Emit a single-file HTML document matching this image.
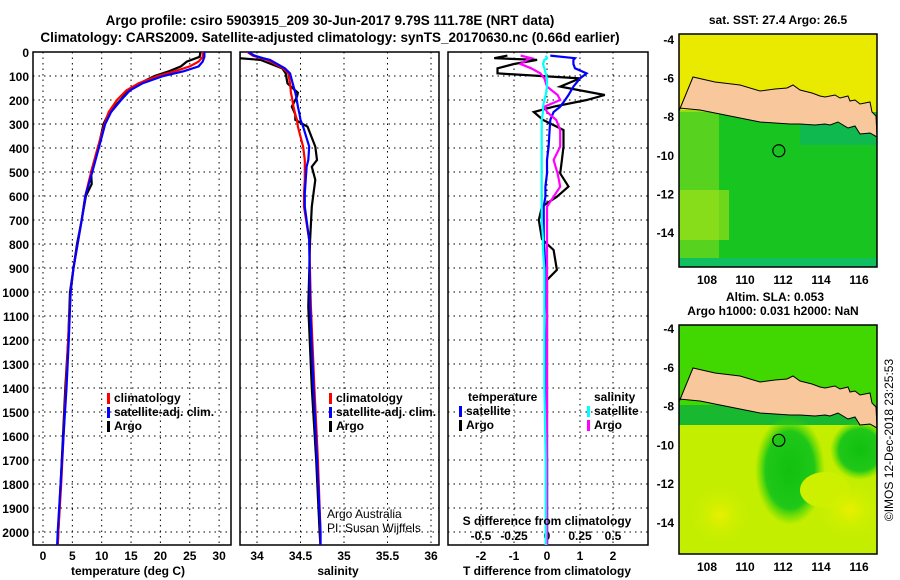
<!DOCTYPE html>
<html><head><meta charset="utf-8"><style>
html,body{margin:0;padding:0;background:#fff;width:900px;height:580px;overflow:hidden;}
svg{display:block;font-family:"Liberation Sans",sans-serif;overflow:hidden;}
.t{font-weight:bold;font-size:13.5px;}
.k{font-weight:bold;font-size:12px;}
</style></head><body>
<svg id="c" width="900" height="580" viewBox="0 0 900 580">
<defs>
<clipPath id="cp1"><rect x="33" y="52" width="198" height="493"/></clipPath>
<clipPath id="cp2"><rect x="240" y="52" width="199" height="493"/></clipPath>
<clipPath id="cp3"><rect x="448" y="52" width="200" height="493"/></clipPath>
<clipPath id="cm1"><rect x="679" y="34" width="198" height="233"/></clipPath>
<clipPath id="cm2"><rect x="679" y="325" width="198" height="229"/></clipPath>
<radialGradient id="yb"><stop offset="0" stop-color="#e8f000"/><stop offset="1" stop-color="#c8f000" stop-opacity="0"/></radialGradient>
<radialGradient id="gb"><stop offset="0" stop-color="#10c010"/><stop offset="0.7" stop-color="#20c818"/><stop offset="1" stop-color="#40d800" stop-opacity="0"/></radialGradient>
</defs>
<text class="t" x="330" y="25" text-anchor="middle">Argo profile: csiro 5903915_209 30-Jun-2017 9.79S 111.78E (NRT data)</text>
<text class="t" x="330" y="42" text-anchor="middle">Climatology: CARS2009. Satellite-adjusted climatology: synTS_20170630.nc (0.66d earlier)</text>
<g id="grid"></g>
<g id="series"></g>
<g id="maps"></g>
<text class="k" x="128" y="575" text-anchor="middle">temperature (deg C)</text>
<text class="k" x="338" y="575" text-anchor="middle">salinity</text>
<text class="k" x="547" y="575" text-anchor="middle">T difference from climatology</text>
<text class="k" x="547" y="525" text-anchor="middle">S difference from climatology</text>
<text x="327" y="518" font-size="12">Argo Australia</text>
<text x="327" y="532" font-size="12">PI: Susan Wijffels</text>
<text class="k" x="778" y="24" text-anchor="middle">sat. SST: 27.4 Argo: 26.5</text>
<text class="k" x="775" y="301" text-anchor="middle">Altim. SLA: 0.053</text>
<text class="k" x="773" y="315" text-anchor="middle">Argo h1000: 0.031 h2000: NaN</text>
<text x="893" y="440" font-size="12" text-anchor="middle" transform="rotate(-90 893 440)">©IMOS 12-Dec-2018 23:25:53</text>
</svg>
<script>
const depthTicks=[0,100,200,300,400,500,600,700,800,900,1000,1100,1200,1300,1400,1500,1600,1700,1800,1900,2000];
const tempTicks=[0,5,10,15,20,25,30];
const salTicks=[34,34.5,35,35.5,36];
const salTickLabels=['34','34.5','35','35.5','36'];
const tdTicks=[-2,-1,0,1,2];
const sdTicks=[-0.5,-0.25,0,0.25,0.5];
const sdTickLabels=['-0.5','-0.25','0','0.25','0.5'];
const lonTicks=[108,110,112,114,116];
const latTicks=[-4,-6,-8,-10,-12,-14];
// temperature profiles
const tDepth=[0,20,40,60,80,100,130,160,200,250,300,400,500,550,600,700,800,900,1000,1200,1400,1600,1800,2000,2060];
const tArgo=[26.8,26.7,24.5,23.5,21.5,19,16.5,14.5,13.2,11.3,10.3,9.4,8.2,8.3,7.3,6.6,5.8,5.2,4.6,4.3,3.8,3.4,3.0,2.6,2.5];
const tClim=[27.2,27.2,26.5,25,22.5,19.5,16.3,14.2,12.6,11.2,10.5,9.3,8.2,7.7,7.2,6.6,5.9,5.2,4.7,4.3,3.9,3.5,3.1,2.6,2.5];
const tSat=[27.5,27.5,27.2,26.5,24,20.5,17,14.8,13.3,11.6,10.6,9.5,8.4,7.8,7.2,6.6,5.9,5.2,4.7,4.4,4.0,3.5,3.0,2.5,2.4];
// salinity profiles
const sDepth=[0,15,26,33,68,89,131,170,186,228,260,283,311,394,450,478,533,589,644,783,1061,1400,1700,2000,2060];
const sArgo=[33.8,33.8,33.8,34.04,34.29,34.33,34.35,34.47,34.46,34.4,34.44,34.44,34.58,34.67,34.69,34.63,34.67,34.65,34.63,34.61,34.59,34.63,34.68,34.72,34.73];
const sClim=[33.89,33.95,34.05,34.12,34.3,34.36,34.38,34.39,34.4,34.42,34.44,34.46,34.47,34.53,34.55,34.55,34.55,34.54,34.54,34.6,34.62,34.66,34.7,34.73,34.73];
const sSat=[33.9,33.97,34.07,34.15,34.32,34.38,34.41,34.44,34.45,34.47,34.49,34.5,34.53,34.6,34.59,34.57,34.56,34.55,34.55,34.6,34.61,34.65,34.69,34.73,34.73];
// difference profiles
const dDepth=[15,26,33,50,68,89,110,144,179,200,228,250,283,325,394,450,506,561,603,644,700,780,825,908,950,1100,1400,1700,2000,2060];
const tdArgo=[-1.2,-1.6,-0.3,-1.0,-1.5,-1.5,1.0,0.4,1.75,1.2,0.2,-0.4,-0.12,0.5,0.5,0.45,0.4,0.65,0.3,-0.15,-0.25,-0.15,0.2,0.3,0.0,0.0,0.0,0.0,0.0,0.0];
const tdSat=[0.1,0.85,0.8,0.8,0.85,1.2,1.0,0.8,0.65,0.55,0.4,0.2,0.1,0.08,0.05,0.0,0.0,-0.05,-0.05,-0.1,-0.1,-0.1,-0.08,-0.05,-0.05,0.0,-0.05,0.0,0.0,0.0];
const sdArgo=[-0.2,-0.12,-0.15,-0.2,-0.12,-0.05,-0.02,0.0,0.08,0.1,-0.02,0.0,0.07,0.1,0.1,0.05,0.08,0.1,0.05,0.0,0.0,0.0,0.0,0.0,0.0,0.0,0.0,0.0,0.0,0.0];
const sdSat=[-0.01,0.0,-0.02,-0.03,-0.02,-0.01,0.0,0.0,-0.01,-0.02,-0.03,-0.03,-0.04,-0.04,-0.04,-0.04,-0.04,-0.04,-0.04,-0.04,-0.04,-0.03,-0.03,-0.02,-0.02,-0.02,-0.02,-0.01,-0.01,-0.01];

const NS='http://www.w3.org/2000/svg';
function mk(tag,at,parent){const e=document.createElementNS(NS,tag);for(const k in at)e.setAttribute(k,at[k]);(parent||document.getElementById('c')).appendChild(e);return e;}
const yD=d=>52+d*0.24;
const xT=t=>43+t*5.87;
const xS=s=>257+(s-34)*87;
const xTD=v=>547+v*33;
const xSD=v=>547+v*132;
const mLon=l=>707+(l-108)*19;
const mLat1=l=>39+(-4-l)*19.3;
const mLat2=l=>328+(-4-l)*19.4;
const G=document.getElementById('grid'), S=document.getElementById('series'), M=document.getElementById('maps');

const panels=[[33,231,'temperature-panel'],[240,439,'salinity-panel'],[448,648,'difference-panel']];
depthTicks.forEach(d=>{
  panels.forEach(p=>{
    const l=mk('line',{x1:p[0],x2:p[1],y1:yD(d),y2:yD(d),stroke:'#000','stroke-dasharray':'1.5 4'},G);
    
    
  });
  const tx=mk('text',{x:29,y:yD(d)+5,'text-anchor':'end','class':'k'},G);
  tx.textContent=d;
  
  
});
function vgrid(ticks,fx,labels,ly){
  ticks.forEach((t,i)=>{
    const l=mk('line',{x1:fx(t),x2:fx(t),y1:52,y2:545,stroke:'#000','stroke-dasharray':'1.5 4'},G);
    
    
    const tx=mk('text',{x:fx(t),y:ly,'text-anchor':'middle','class':'k'},G);
    tx.textContent=labels?labels[i]:t;
    
    
  });
}
vgrid(tempTicks,xT,null,560);
vgrid(salTicks,xS,salTickLabels,560);
vgrid(tdTicks,xTD,null,560);
sdTicks.forEach((t,i)=>{
  const tx=mk('text',{x:xSD(t),y:540,'text-anchor':'middle','class':'k'},G);
  tx.textContent=sdTickLabels[i];
  
  
});
panels.forEach(p=>{
  const r=mk('rect',{x:p[0],y:52,width:p[1]-p[0],height:493,fill:'none',stroke:'#000','stroke-width':1.5},G);
  
  
});

function line(xs,ds,fx,col,clip,name,w){
  const pts=xs.map((v,i)=>fx(v).toFixed(1)+','+yD(ds[i]).toFixed(1)).join(' ');
  const pl=mk('polyline',{points:pts,fill:'none',stroke:col,'stroke-width':w||2.2,'clip-path':'url(#'+clip+')'},S);
  
  
}
line(tArgo,tDepth,xT,'#000','cp1','temperature-argo-line');
line(tClim,tDepth,xT,'#f00','cp1','temperature-climatology-line');
line(tSat,tDepth,xT,'#00f','cp1','temperature-satellite-line');
line(sArgo,sDepth,xS,'#000','cp2','salinity-argo-line');
line(sClim,sDepth,xS,'#f00','cp2','salinity-climatology-line');
line(sSat,sDepth,xS,'#00f','cp2','salinity-satellite-line');
line(tdArgo,dDepth,xTD,'#000','cp3','t-diff-argo-line');
line(tdSat,dDepth,xTD,'#00f','cp3','t-diff-satellite-line');
line(sdArgo,dDepth,xSD,'#f0f','cp3','s-diff-argo-line');
line(sdSat,dDepth,xSD,'#0ff','cp3','s-diff-satellite-line');

function legend(x,y,items,nm){
  items.forEach((it,i)=>{
    const r=mk('rect',{x:x,y:y+i*14-9,width:3,height:11,fill:it[1]},S);
    
    
    const t=mk('text',{x:x+7,y:y+i*14,'class':'k'},S);
    t.textContent=it[0];
    
    
  });
}
legend(107,402,[['climatology','#f00'],['satellite-adj. clim.','#00f'],['Argo','#000']],'temp-legend');
legend(329,402,[['climatology','#f00'],['satellite-adj. clim.','#00f'],['Argo','#000']],'sal-legend');
legend(459,415,[['satellite','#00f'],['Argo','#000']],'t-diff-legend');
legend(587,415,[['satellite','#0ff'],['Argo','#f0f']],'s-diff-legend');
[['temperature',468,'t-diff-legend-title'],['salinity',594,'s-diff-legend-title']].forEach(a=>{
  const t=mk('text',{x:a[1],y:401,'class':'k'},S);t.textContent=a[0];
  
  
});

// maps
const java='679,111 693,77 715,82 740,85 760,91 775,89 787,88 793,85 800,90 812,93 820,96 825,97 835,95 840,98 848,96 850,101 855,100 860,104 870,102 872,112 876,116 877,137 870,133 860,134 855,126 848,128 838,122 830,125 825,124 815,125 800,124 790,124 760,122 735,117 700,110 679,108';
function map(y0,h,clip,top,nm,latf){
  const g=mk('g',{'clip-path':'url(#'+clip+')'},M);
  
  
  const off=y0-34;
  if(top){
    mk('rect',{x:679,y:y0,width:198,height:h,fill:'#18c420'},g);
    mk('rect',{x:679,y:y0,width:198,height:78,fill:'#eaea00'},g);
    mk('rect',{x:679,y:110,width:40,height:150,fill:'#70d820',opacity:0.7},g);
    mk('rect',{x:679,y:190,width:50,height:50,fill:'#a8e418',opacity:0.6},g);
    mk('rect',{x:679,y:258,width:198,height:9,fill:'#10c060'},g);
    mk('rect',{x:800,y:125,width:77,height:20,fill:'#10b850'},g);
  } else {
    mk('rect',{x:679,y:y0,width:198,height:h,fill:'#40d800'},g);
    mk('rect',{x:679,y:y0+80,width:198,height:30,fill:'#18b830'},g);
    mk('rect',{x:679,y:y0+100,width:198,height:h-100,fill:'#c4ee00'},g);
    mk('ellipse',{cx:790,cy:y0+145,rx:35,ry:55,fill:'url(#gb)'},g);
    mk('ellipse',{cx:860,cy:y0+125,rx:30,ry:30,fill:'url(#gb)'},g);
    mk('ellipse',{cx:825,cy:y0+165,rx:25,ry:18,fill:'#ccf000'},g);
    mk('ellipse',{cx:720,cy:y0+190,rx:30,ry:30,fill:'url(#yb)'},g);
    mk('ellipse',{cx:850,cy:y0+185,rx:35,ry:30,fill:'url(#yb)'},g);
  }
  const j=mk('polygon',{points:java,fill:'#f8c89c',stroke:'#000','stroke-width':1,transform:'translate(0,'+off+')'},g);
  
  
  const c=mk('circle',{cx:mLon(111.78),cy:latf(-9.79),r:6,fill:'none',stroke:'#000','stroke-width':1.2},M);
  
  
  const r=mk('rect',{x:679,y:y0,width:198,height:h,fill:'none',stroke:'#000','stroke-width':1.5},M);
  
  
  lonTicks.forEach(l=>{
    const t=mk('text',{x:mLon(l),y:y0+h+17,'text-anchor':'middle','class':'k'},M);
    t.textContent=l;
    
    
  });
  latTicks.forEach(l=>{
    const t=mk('text',{x:674,y:latf(l)+5,'text-anchor':'end','class':'k'},M);
    t.textContent=l;
    
    
  });
}
map(34,233,'cm1',true,'sst-map',mLat1);
map(325,229,'cm2',false,'sla-map',mLat2);
</script>
</body></html>
